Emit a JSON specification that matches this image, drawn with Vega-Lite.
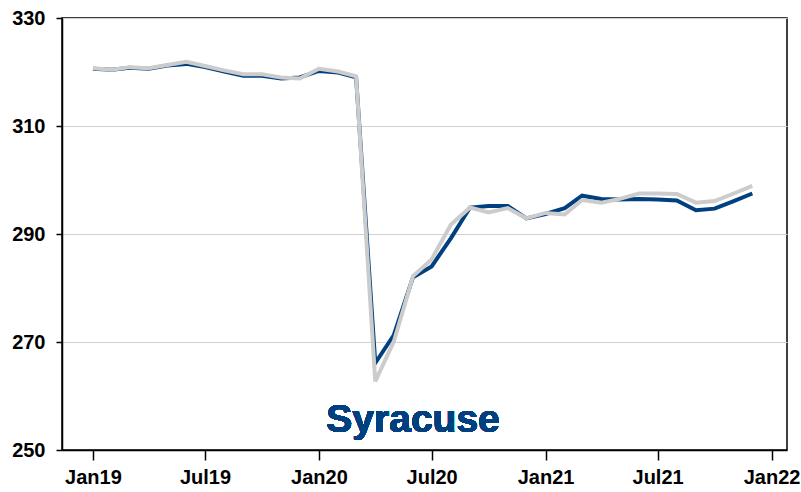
{
  "$schema": "https://vega.github.io/schema/vega-lite/v6.json",
  "width": 725,
  "height": 432,
  "autosize": {"type": "none"},
  "padding": {"left": 62, "top": 18, "right": 14, "bottom": 42},
  "background": "white",
  "config": {
    "view": {"stroke": "#000000", "strokeWidth": 1.5},
    "font": "Liberation Sans"
  },
  "data": {
    "values": [
      {"date": "2019-01-01", "blue": 320.6, "gray": 320.7},
      {"date": "2019-02-01", "blue": 320.4, "gray": 320.4},
      {"date": "2019-03-01", "blue": 320.8, "gray": 320.9},
      {"date": "2019-04-01", "blue": 320.6, "gray": 320.7},
      {"date": "2019-05-01", "blue": 321.2, "gray": 321.3},
      {"date": "2019-06-01", "blue": 321.5, "gray": 321.9},
      {"date": "2019-07-01", "blue": 320.9, "gray": 321.1},
      {"date": "2019-08-01", "blue": 320.1, "gray": 320.3},
      {"date": "2019-09-01", "blue": 319.3, "gray": 319.6},
      {"date": "2019-10-01", "blue": 319.3, "gray": 319.6},
      {"date": "2019-11-01", "blue": 318.8, "gray": 319.0},
      {"date": "2019-12-01", "blue": 319.0, "gray": 318.8},
      {"date": "2020-01-01", "blue": 320.2, "gray": 320.6},
      {"date": "2020-02-01", "blue": 319.9, "gray": 320.1},
      {"date": "2020-03-01", "blue": 319.0, "gray": 319.2},
      {"date": "2020-04-01", "blue": 266.1, "gray": 262.7},
      {"date": "2020-05-01", "blue": 271.3, "gray": 270.1},
      {"date": "2020-06-01", "blue": 282.0, "gray": 282.2},
      {"date": "2020-07-01", "blue": 284.0, "gray": 285.3},
      {"date": "2020-08-01", "blue": 289.2, "gray": 291.7},
      {"date": "2020-09-01", "blue": 294.9, "gray": 294.9},
      {"date": "2020-10-01", "blue": 295.2, "gray": 294.0},
      {"date": "2020-11-01", "blue": 295.2, "gray": 294.8},
      {"date": "2020-12-01", "blue": 292.9, "gray": 292.9},
      {"date": "2021-01-01", "blue": 293.7, "gray": 293.9},
      {"date": "2021-02-01", "blue": 294.8, "gray": 293.6},
      {"date": "2021-03-01", "blue": 297.1, "gray": 296.3},
      {"date": "2021-04-01", "blue": 296.5, "gray": 295.8},
      {"date": "2021-05-01", "blue": 296.4, "gray": 296.5},
      {"date": "2021-06-01", "blue": 296.5, "gray": 297.5},
      {"date": "2021-07-01", "blue": 296.4, "gray": 297.5},
      {"date": "2021-08-01", "blue": 296.2, "gray": 297.4},
      {"date": "2021-09-01", "blue": 294.4, "gray": 295.8},
      {"date": "2021-10-01", "blue": 294.7, "gray": 296.1},
      {"date": "2021-11-01", "blue": 296.1, "gray": 297.5},
      {"date": "2021-12-01", "blue": 297.5, "gray": 298.9}
    ]
  },
  "encoding": {
    "x": {
      "field": "date",
      "type": "temporal",
      "scale": {
        "type": "utc",
        "domain": [
          {"year": 2018, "month": 11, "date": 12, "utc": true},
          {"year": 2022, "month": 1, "date": 26, "utc": true}
        ]
      },
      "axis": {
        "title": null,
        "grid": false,
        "values": [
          {"year": 2019, "month": 1, "date": 1, "utc": true},
          {"year": 2019, "month": 7, "date": 1, "utc": true},
          {"year": 2020, "month": 1, "date": 1, "utc": true},
          {"year": 2020, "month": 7, "date": 1, "utc": true},
          {"year": 2021, "month": 1, "date": 1, "utc": true},
          {"year": 2021, "month": 7, "date": 1, "utc": true},
          {"year": 2022, "month": 1, "date": 1, "utc": true}
        ],
        "labelExpr": "utcFormat(datum.value, '%b%y')",
        "labelFont": "Liberation Sans",
        "labelFontSize": 20,
        "labelFontWeight": "bold",
        "labelColor": "#000000",
        "labelPadding": 7,
        "labelFlush": false,
        "labelOverlap": false,
        "tickSize": 10,
        "tickColor": "#000000",
        "tickWidth": 1.5,
        "domainColor": "#000000",
        "domainWidth": 1.5
      }
    }
  },
  "layer": [
    {
      "mark": {"type": "line", "color": "#004080", "strokeWidth": 4},
      "encoding": {
        "y": {
          "field": "blue",
          "type": "quantitative",
          "scale": {"domain": [250, 330], "nice": false, "zero": false},
          "axis": {
            "title": null,
            "values": [250, 270, 290, 310, 330],
            "grid": true,
            "gridColor": "#d0d0d0",
            "gridWidth": 1.2,
            "labelFont": "Liberation Sans",
            "labelFontSize": 20,
            "labelFontWeight": "bold",
            "labelColor": "#000000",
            "labelPadding": 11,
            "tickSize": 6,
            "tickColor": "#000000",
            "tickWidth": 1.5,
            "domainColor": "#000000",
            "domainWidth": 1.5
          }
        }
      }
    },
    {
      "mark": {"type": "line", "color": "#cccccc", "strokeWidth": 4},
      "encoding": {
        "y": {"field": "gray", "type": "quantitative"}
      }
    },
    {
      "mark": {
        "type": "text",
        "font": "Liberation Sans",
        "fontSize": 39,
        "fontWeight": "bold",
        "color": "#004080",
        "align": "center",
        "baseline": "alphabetic"
      },
      "encoding": {
        "x": {"datum": {"year": 2020, "month": 6, "date": 1, "utc": true}, "type": "temporal"},
        "y": {"datum": 253.3, "type": "quantitative"},
        "text": {"value": "Syracuse"}
      }
    }
  ]
}
